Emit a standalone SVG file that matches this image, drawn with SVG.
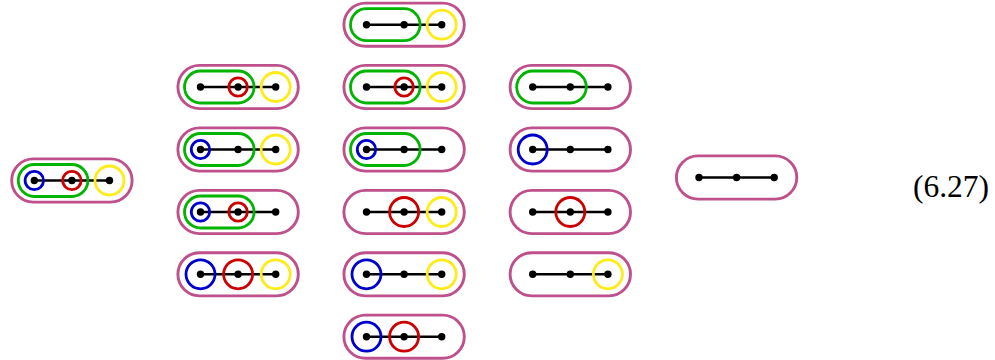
<svg xmlns="http://www.w3.org/2000/svg" xmlns:xlink="http://www.w3.org/1999/xlink" width="995" height="360" viewBox="0 0 995 360">
<style>
.pill{fill:#fff;stroke:#be508c;stroke-width:2.9}
.edge{stroke:#000;stroke-width:2.4}
.dot{fill:#000}
.green{fill:none;stroke:#00b400;stroke-width:2.8}
.blue{fill:none;stroke:#0000cc;stroke-width:2.8}
.red{fill:none;stroke:#cc0000;stroke-width:2.8}
.yellow{fill:none;stroke:#ffeb1a;stroke-width:2.8}
.lbl{font-family:"Liberation Serif",serif;font-size:31.5px;fill:#000}
</style>
<defs>
<g id="base">
<rect class="pill" x="-22.6" y="-21.6" width="120.4" height="43.2" rx="21.6"/>
<line class="edge" x1="0" y1="0" x2="75.2" y2="0"/>
</g>
<g id="dots">
<circle class="dot" cx="0" cy="0" r="3.7"/>
<circle class="dot" cx="37.6" cy="0" r="3.7"/>
<circle class="dot" cx="75.2" cy="0" r="3.7"/>
</g>
<rect id="grp" class="green" x="-16" y="-16" width="69.6" height="32" rx="16"/>
<circle id="sb" class="blue" cx="0" cy="0" r="9.2"/>
<circle id="sr" class="red" cx="37.6" cy="0" r="9.2"/>
<circle id="bb" class="blue" cx="0" cy="0" r="14.5"/>
<circle id="br" class="red" cx="37.6" cy="0" r="14.5"/>
<circle id="by" class="yellow" cx="75.2" cy="0" r="14.5"/>
</defs>

<g id="n1" transform="translate(34.3,180.5)">
<use xlink:href="#base"/><use xlink:href="#grp"/><use xlink:href="#sb"/><use xlink:href="#sr"/><use xlink:href="#by"/><use xlink:href="#dots"/>
</g>

<g id="n2a" transform="translate(200.5,87)">
<use xlink:href="#base"/><use xlink:href="#grp"/><use xlink:href="#sr"/><use xlink:href="#by"/><use xlink:href="#dots"/>
</g>
<g id="n2b" transform="translate(200.5,149.5)">
<use xlink:href="#base"/><use xlink:href="#grp"/><use xlink:href="#sb"/><use xlink:href="#by"/><use xlink:href="#dots"/>
</g>
<g id="n2c" transform="translate(200.5,212)">
<use xlink:href="#base"/><use xlink:href="#grp"/><use xlink:href="#sb"/><use xlink:href="#sr"/><use xlink:href="#dots"/>
</g>
<g id="n2d" transform="translate(200.5,274.3)">
<use xlink:href="#base"/><use xlink:href="#bb"/><use xlink:href="#br"/><use xlink:href="#by"/><use xlink:href="#dots"/>
</g>

<g id="n3a" transform="translate(366.5,24.7)">
<use xlink:href="#base"/><use xlink:href="#grp"/><use xlink:href="#by"/><use xlink:href="#dots"/>
</g>
<g id="n3b" transform="translate(366.5,87)">
<use xlink:href="#base"/><use xlink:href="#grp"/><use xlink:href="#sr"/><use xlink:href="#by"/><use xlink:href="#dots"/>
</g>
<g id="n3c" transform="translate(366.5,149.5)">
<use xlink:href="#base"/><use xlink:href="#grp"/><use xlink:href="#sb"/><use xlink:href="#dots"/>
</g>
<g id="n3d" transform="translate(366.5,212)">
<use xlink:href="#base"/><use xlink:href="#br"/><use xlink:href="#by"/><use xlink:href="#dots"/>
</g>
<g id="n3e" transform="translate(366.5,274.3)">
<use xlink:href="#base"/><use xlink:href="#bb"/><use xlink:href="#by"/><use xlink:href="#dots"/>
</g>
<g id="n3f" transform="translate(366.5,336.7)">
<use xlink:href="#base"/><use xlink:href="#bb"/><use xlink:href="#br"/><use xlink:href="#dots"/>
</g>

<g id="n4a" transform="translate(532.7,87)">
<use xlink:href="#base"/><use xlink:href="#grp"/><use xlink:href="#dots"/>
</g>
<g id="n4b" transform="translate(532.7,149.5)">
<use xlink:href="#base"/><use xlink:href="#bb"/><use xlink:href="#dots"/>
</g>
<g id="n4c" transform="translate(532.7,212)">
<use xlink:href="#base"/><use xlink:href="#br"/><use xlink:href="#dots"/>
</g>
<g id="n4d" transform="translate(532.7,274.3)">
<use xlink:href="#base"/><use xlink:href="#by"/><use xlink:href="#dots"/>
</g>

<g id="n5" transform="translate(699,177.5)">
<use xlink:href="#base"/><use xlink:href="#dots"/>
</g>

<text id="eq" class="lbl" x="951" y="197" text-anchor="middle">(6.27)</text>
</svg>
